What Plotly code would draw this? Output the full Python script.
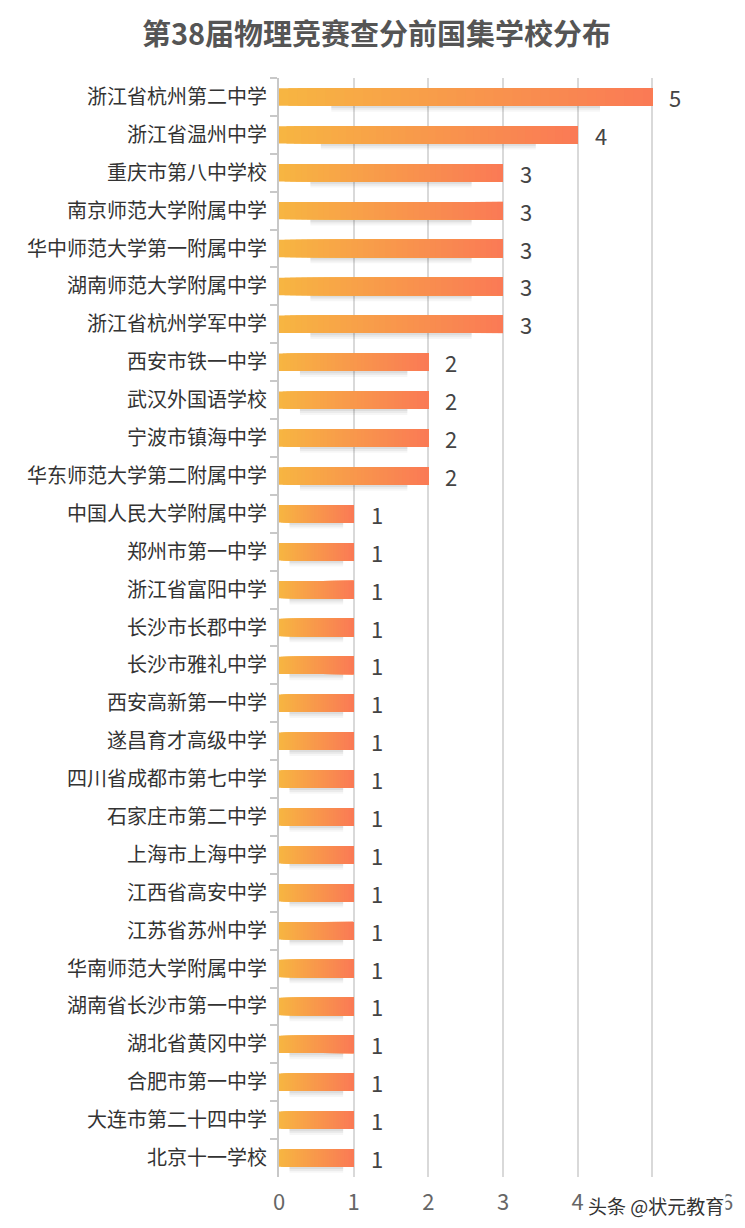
import plotly.graph_objects as go

# schools listed top to bottom as in the chart
schools = [
    "浙江省杭州第二中学", "浙江省温州中学", "重庆市第八中学校", "南京师范大学附属中学",
    "华中师范大学第一附属中学", "湖南师范大学附属中学", "浙江省杭州学军中学",
    "西安市铁一中学", "武汉外国语学校", "宁波市镇海中学", "华东师范大学第二附属中学",
    "中国人民大学附属中学", "郑州市第一中学", "浙江省富阳中学", "长沙市长郡中学",
    "长沙市雅礼中学", "西安高新第一中学", "遂昌育才高级中学", "四川省成都市第七中学",
    "石家庄市第二中学", "上海市上海中学", "江西省高安中学", "江苏省苏州中学",
    "华南师范大学附属中学", "湖南省长沙市第一中学", "湖北省黄冈中学", "合肥市第一中学",
    "大连市第二十四中学", "北京十一学校",
]
counts = [5, 4, 3, 3, 3, 3, 3, 2, 2, 2, 2,
          1, 1, 1, 1, 1, 1, 1, 1, 1, 1, 1, 1, 1, 1, 1, 1, 1, 1]

FONT = "Noto Sans CJK SC"
N_SEG = 40
c_left = (247, 181, 66)
c_right = (250, 122, 85)


def mix(t):
    r, g, b = [round(a + (b_ - a) * t) for a, b_ in zip(c_left, c_right)]
    return f"rgb({r},{g},{b})"


fig = go.Figure()

# soft shadow under each bar
for a, w in [(0.035, 0.17), (0.045, 0.12), (0.06, 0.07)]:
    fig.add_trace(go.Bar(
        y=schools,
        x=[v * 0.72 for v in counts],
        base=[v * 0.14 for v in counts],
        orientation="h",
        width=w,
        offset=0.22,
        marker=dict(color=f"rgba(0,0,0,{a})", line_width=0),
        hoverinfo="skip",
        showlegend=False,
    ))

# gradient bars: each segment runs to the bar end, later ones cover earlier ones
for j in range(N_SEG):
    fig.add_trace(go.Bar(
        y=schools,
        x=[v * (1 - j / N_SEG) for v in counts],
        base=[v * j / N_SEG for v in counts],
        orientation="h",
        width=0.46,
        marker=dict(color=mix(j / (N_SEG - 1)), line_width=0),
        hoverinfo="skip",
        showlegend=False,
    ))

# value labels
for s, v in zip(schools, counts):
    fig.add_annotation(
        x=v, y=s, text=str(v), showarrow=False,
        xanchor="left", xshift=15,
        font=dict(family=FONT, size=22, color="#444444"),
    )

# watermark sits over the axis labels, on a white patch
fig.add_annotation(
    xref="paper", yref="paper", x=0.685, y=-0.026,
    text="头条 @状元教育", showarrow=False,
    xanchor="left", yanchor="middle",
    bgcolor="white", borderpad=1,
    font=dict(family=FONT, size=19, color="#333333"),
)

fig.update_layout(
    width=737, height=1220,
    barmode="overlay",
    plot_bgcolor="white", paper_bgcolor="white",
    margin=dict(l=271, r=16, t=70, b=49),
    title=dict(
        text="第38届物理竞赛查分前国集学校分布",
        x=0.5, xanchor="center", y=0.978, yanchor="middle",
        font=dict(family=FONT, size=29, color="#555555", weight="bold"),
    ),
    xaxis=dict(
        range=[0, 6], dtick=1, showgrid=True, gridcolor="#d9d9d9", gridwidth=2,
        zeroline=False, showline=False, ticks="", ticklabelstandoff=10,
        tickfont=dict(family=FONT, size=22, color="#666666"),
    ),
    yaxis=dict(
        autorange="reversed", showline=True, linecolor="#c8c8c8", linewidth=2,
        ticks="outside", tickson="boundaries", ticklen=7, tickcolor="#c8c8c8",
        tickwidth=2, showgrid=False, ticklabelstandoff=6,
        tickfont=dict(family=FONT, size=20, color="#333333"),
    ),
)

fig.write_html("out.html")
